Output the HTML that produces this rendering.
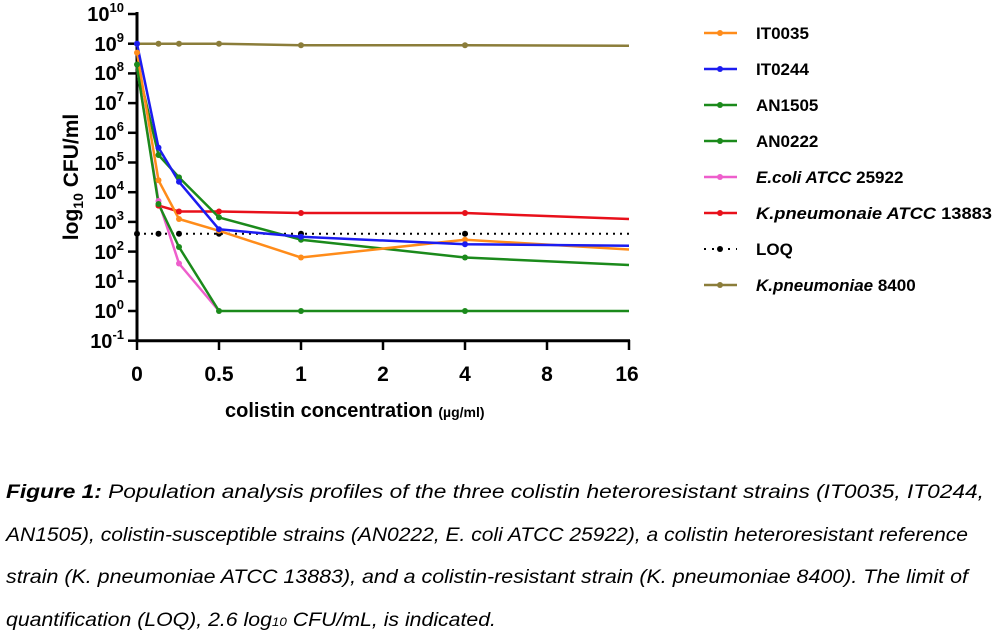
<!DOCTYPE html>
<html><head><meta charset="utf-8"><style>
body{margin:0;background:#fff;width:1000px;height:638px;overflow:hidden;font-family:"Liberation Sans",sans-serif}
</style></head><body>
<svg width="1000" height="638" style="position:absolute;left:0;top:0" font-family="Liberation Sans, sans-serif">
<g stroke="#000" stroke-width="3" fill="none">
<line x1="137" y1="12" x2="137" y2="342"/>
<line x1="136" y1="340.7" x2="630" y2="340.7"/>
<g stroke-width="2.5">
<line x1="128" y1="14" x2="137" y2="14"/><line x1="128" y1="43.7" x2="137" y2="43.7"/><line x1="128" y1="73.4" x2="137" y2="73.4"/><line x1="128" y1="103.1" x2="137" y2="103.1"/><line x1="128" y1="132.8" x2="137" y2="132.8"/><line x1="128" y1="162.5" x2="137" y2="162.5"/><line x1="128" y1="192.2" x2="137" y2="192.2"/><line x1="128" y1="221.9" x2="137" y2="221.9"/><line x1="128" y1="251.6" x2="137" y2="251.6"/><line x1="128" y1="281.3" x2="137" y2="281.3"/><line x1="128" y1="311" x2="137" y2="311"/><line x1="128" y1="340.7" x2="137" y2="340.7"/>
<line x1="137" y1="340" x2="137" y2="350"/><line x1="219" y1="340" x2="219" y2="350"/><line x1="301" y1="340" x2="301" y2="350"/><line x1="383" y1="340" x2="383" y2="350"/><line x1="465" y1="340" x2="465" y2="350"/><line x1="547" y1="340" x2="547" y2="350"/><line x1="629" y1="340" x2="629" y2="350"/>
</g></g>
<g font-weight="bold" font-size="20" text-anchor="end" fill="#000">
<text x="124" y="21">10<tspan font-size="13" dy="-9">10</tspan></text>
<text x="124" y="51">10<tspan font-size="13" dy="-9">9</tspan></text>
<text x="124" y="80">10<tspan font-size="13" dy="-9">8</tspan></text>
<text x="124" y="110">10<tspan font-size="13" dy="-9">7</tspan></text>
<text x="124" y="140">10<tspan font-size="13" dy="-9">6</tspan></text>
<text x="124" y="170">10<tspan font-size="13" dy="-9">5</tspan></text>
<text x="124" y="199">10<tspan font-size="13" dy="-9">4</tspan></text>
<text x="124" y="229">10<tspan font-size="13" dy="-9">3</tspan></text>
<text x="124" y="259">10<tspan font-size="13" dy="-9">2</tspan></text>
<text x="124" y="288">10<tspan font-size="13" dy="-9">1</tspan></text>
<text x="124" y="318">10<tspan font-size="13" dy="-9">0</tspan></text>
<text x="124" y="348">10<tspan font-size="13" dy="-9">-1</tspan></text>
</g>
<g font-weight="bold" font-size="21" text-anchor="middle">
<text x="137" y="381">0</text><text x="219" y="381">0.5</text><text x="301" y="381">1</text><text x="383" y="381">2</text><text x="465" y="381">4</text><text x="547" y="381">8</text><text x="627" y="381">16</text>
</g>
<text x="225" y="417" font-weight="bold" font-size="20"><tspan>colistin concentration </tspan><tspan font-size="14">(µg/ml)</tspan></text>
<text transform="translate(78,177) rotate(-90)" text-anchor="middle" font-weight="bold" font-size="21">log<tspan font-size="14" dy="5">10</tspan><tspan dy="-5"> CFU/ml</tspan></text>
<g fill="none" stroke-width="2.5" stroke-linejoin="round">
<polyline stroke="#8b7d3a" points="137,43.7 158.5,43.7 179,43.7 219,43.7 301,45.2 465,45.2 629,45.8"/>
<polyline stroke="#000" stroke-width="2" stroke-dasharray="2,5" points="137,233.8 629,233.8"/>
<polyline stroke="#e8101a" points="158.5,205.6 179,211.5 219,211.5 301,213 465,213 629,219"/>
<polyline stroke="#ee5ecc" points="137,67.5 158.5,201 179,263.5 219,311"/>
<polyline stroke="#1b8a1b" points="137,67.5 158.5,204 179,247 219,311 301,311 465,311 629,311"/>
<polyline stroke="#1b8a1b" points="137,64.5 158.5,155 179,177.4 219,217.4 301,239.7 465,257.5 629,265"/>
<polyline stroke="#ff8c1a" points="137,52.6 158.5,180.3 179,219 219,230.8 301,257.5 465,239.7 629,249.5"/>
<polyline stroke="#1c1cf0" points="137,43.7 158.5,147.6 179,181.8 219,229.3 301,236.8 465,244.2 629,245.7"/>
</g>
<g fill="#000"><circle cx="137" cy="233.8" r="3"/><circle cx="158.5" cy="233.8" r="3"/><circle cx="179" cy="233.8" r="3"/><circle cx="219" cy="233.8" r="3"/><circle cx="301" cy="233.8" r="3"/><circle cx="465" cy="233.8" r="3"/></g>
<g fill="#8b7d3a"><circle cx="137" cy="43.7" r="3"/><circle cx="158.5" cy="43.7" r="3"/><circle cx="179" cy="43.7" r="3"/><circle cx="219" cy="43.7" r="3"/><circle cx="301" cy="45.2" r="3"/><circle cx="465" cy="45.2" r="3"/></g>
<g fill="#e8101a"><circle cx="158.5" cy="205.6" r="3"/><circle cx="179" cy="211.5" r="3"/><circle cx="219" cy="211.5" r="3"/><circle cx="301" cy="213" r="3"/><circle cx="465" cy="213" r="3"/></g>
<g fill="#ee5ecc"><circle cx="158.5" cy="201" r="3"/><circle cx="179" cy="263.5" r="3"/></g>
<g fill="#1b8a1b"><circle cx="158.5" cy="204" r="3"/><circle cx="179" cy="247" r="3"/><circle cx="219" cy="311" r="3"/><circle cx="301" cy="311" r="3"/><circle cx="465" cy="311" r="3"/><circle cx="137" cy="64.5" r="3"/><circle cx="158.5" cy="155" r="3"/><circle cx="179" cy="177.4" r="3"/><circle cx="219" cy="217.4" r="3"/><circle cx="301" cy="239.7" r="3"/><circle cx="465" cy="257.5" r="3"/></g>
<g fill="#ff8c1a"><circle cx="137" cy="52.6" r="3"/><circle cx="158.5" cy="180.3" r="3"/><circle cx="179" cy="219" r="3"/><circle cx="219" cy="230.8" r="3"/><circle cx="301" cy="257.5" r="3"/><circle cx="465" cy="239.7" r="3"/></g>
<g fill="#1c1cf0"><circle cx="137" cy="43.7" r="3"/><circle cx="158.5" cy="147.6" r="3"/><circle cx="179" cy="181.8" r="3"/><circle cx="219" cy="229.3" r="3"/><circle cx="301" cy="236.8" r="3"/><circle cx="465" cy="244.2" r="3"/></g>
<g stroke-width="2.5">
<line x1="704" y1="33" x2="737" y2="33" stroke="#ff8c1a"/><circle cx="720" cy="33" r="3" fill="#ff8c1a"/>
<line x1="704" y1="69" x2="737" y2="69" stroke="#1c1cf0"/><circle cx="720" cy="69" r="3" fill="#1c1cf0"/>
<line x1="704" y1="105" x2="737" y2="105" stroke="#1b8a1b"/><circle cx="720" cy="105" r="3" fill="#1b8a1b"/>
<line x1="704" y1="141" x2="737" y2="141" stroke="#1b8a1b"/><circle cx="720" cy="141" r="3" fill="#1b8a1b"/>
<line x1="704" y1="177" x2="737" y2="177" stroke="#ee5ecc"/><circle cx="720" cy="177" r="3" fill="#ee5ecc"/>
<line x1="704" y1="213" x2="737" y2="213" stroke="#e8101a"/><circle cx="720" cy="213" r="3" fill="#e8101a"/>
<line x1="704" y1="249" x2="737" y2="249" stroke="#000" stroke-width="2" stroke-dasharray="2,6"/><circle cx="720" cy="249" r="3" fill="#000"/>
<line x1="704" y1="285" x2="737" y2="285" stroke="#8b7d3a"/><circle cx="720" cy="285" r="3" fill="#8b7d3a"/>
</g>
<g font-weight="bold" font-size="17">
<text x="756" y="39">IT0035</text>
<text x="756" y="75">IT0244</text>
<text x="756" y="111">AN1505</text>
<text x="756" y="147">AN0222</text>
<text x="756" y="183"><tspan font-style="italic">E.coli ATCC</tspan> 25922</text>
<text x="756" y="219" textLength="236" lengthAdjust="spacingAndGlyphs"><tspan font-style="italic">K.pneumonaie ATCC</tspan> 13883</text>
<text x="756" y="255">LOQ</text>
<text x="756" y="291"><tspan font-style="italic">K.pneumoniae</tspan> 8400</text>
</g>
<g font-style="italic" font-size="19" fill="#000">
<text x="6" y="498" textLength="978" lengthAdjust="spacingAndGlyphs"><tspan font-weight="bold">Figure 1:</tspan> Population analysis profiles of the three colistin heteroresistant strains (IT0035, IT0244,</text>
<text x="6" y="541" textLength="962" lengthAdjust="spacingAndGlyphs">AN1505), colistin-susceptible strains (AN0222, E. coli ATCC 25922), a colistin heteroresistant reference</text>
<text x="6" y="583" textLength="962" lengthAdjust="spacingAndGlyphs">strain (K. pneumoniae ATCC 13883), and a colistin-resistant strain (K. pneumoniae 8400). The limit of</text>
<text x="6" y="626" textLength="490" lengthAdjust="spacingAndGlyphs">quantification (LOQ), 2.6 log<tspan font-size="12">10</tspan> CFU/mL, is indicated.</text>
</g>
</svg>
</body></html>
